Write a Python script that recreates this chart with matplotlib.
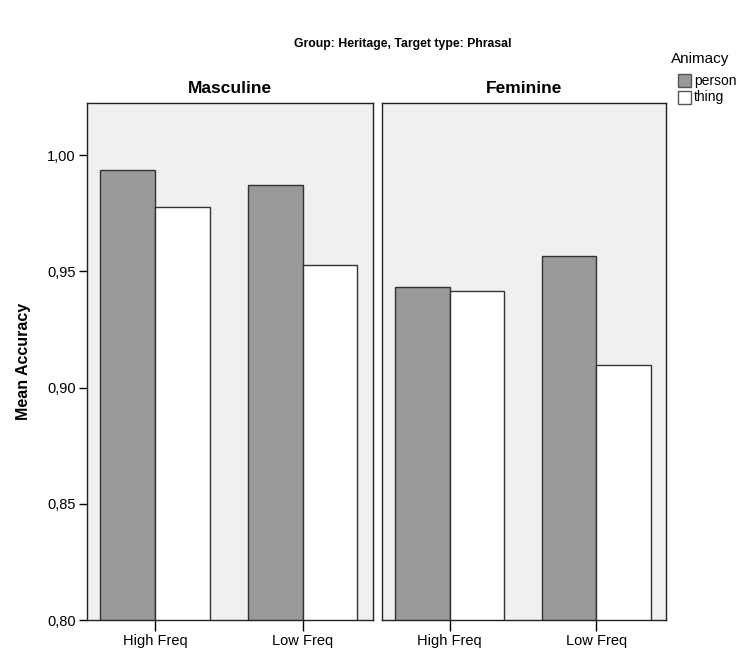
import numpy as np
import matplotlib
matplotlib.use('Agg')
from matplotlib import pyplot as plt
from matplotlib.patches import Rectangle
from matplotlib.ticker import FuncFormatter

PANELS = ['Masculine', 'Feminine']
FREQS = ['High Freq', 'Low Freq']
PERSON = {
    'Masculine': [0.9935, 0.9871],
    'Feminine': [0.9432, 0.9566],
}
THING = {
    'Masculine': [0.9776, 0.9527],
    'Feminine': [0.9415, 0.9097],
}
Y_TICKS = [0.80, 0.85, 0.90, 0.95, 1.00]

PERSON_COLOR = '#999999'
THING_COLOR = '#ffffff'
EDGE = '#333333'
BG = '#f0f0f0'

plt.rcParams['font.family'] = ['Liberation Sans', 'DejaVu Sans']

fig = plt.figure(figsize=(7.5, 6.48), dpi=100)

axes_pos = [
    [87 / 750, 1 - 620 / 648, 286 / 750, 517 / 648],
    [382 / 750, 1 - 620 / 648, 284 / 750, 517 / 648],
]

w = 0.37
x = np.arange(len(FREQS))
comma = FuncFormatter(lambda v, p: f'{v:.2f}'.replace('.', ','))

for i, panel in enumerate(PANELS):
    ax = fig.add_axes(axes_pos[i])
    ax.set_facecolor(BG)
    ax.bar(x - w / 2, PERSON[panel], width=w, color=PERSON_COLOR,
           edgecolor=EDGE, linewidth=1.0, zorder=2)
    ax.bar(x + w / 2, THING[panel], width=w, color=THING_COLOR,
           edgecolor=EDGE, linewidth=1.0, zorder=2)
    ax.set_xlim(-0.46, 1.475)
    ax.set_ylim(0.80, 1.0224)
    ax.set_xticks(x)
    ax.set_xticklabels(FREQS, fontsize=10.5)
    ax.tick_params(axis='x', direction='out', length=8, width=1.0, pad=2)
    ax.set_title(panel, fontsize=12.5, fontweight='bold', pad=7)
    for s in ax.spines.values():
        s.set_color('#222222')
        s.set_linewidth(1.0)
    if i == 0:
        ax.set_yticks(Y_TICKS)
        ax.yaxis.set_major_formatter(comma)
        ax.tick_params(axis='y', direction='out', length=6, width=1.0,
                       labelsize=10.5, pad=2)
        ax.set_ylabel('Mean Accuracy', fontsize=11.5, fontweight='bold',
                      labelpad=12)
    else:
        ax.set_yticks([])

fig.text(0.537, 1 - 44 / 648, 'Group: Heritage, Target type: Phrasal',
         fontsize=8.8, fontweight='bold', ha='center', va='center')

# legend
fig.text(671 / 750, 1 - 59 / 648, 'Animacy', fontsize=11,
         ha='left', va='center')
for j, (lab, col) in enumerate([('person', PERSON_COLOR), ('thing', THING_COLOR)]):
    y0 = 1 - (87 + j * 17) / 648
    fig.patches.append(Rectangle((678 / 750, y0), 13 / 750, 13 / 648,
                                 transform=fig.transFigure, facecolor=col,
                                 edgecolor='#555555', linewidth=1.0))
    fig.text(694 / 750, y0 + 6.5 / 648, lab, fontsize=10, ha='left',
             va='center')

fig.savefig('out.png', dpi=100)
